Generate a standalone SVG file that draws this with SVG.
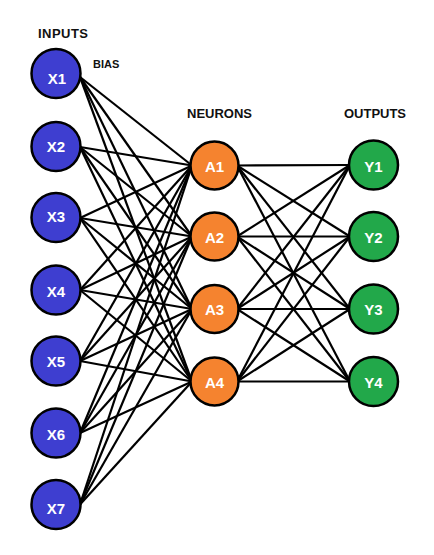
<svg xmlns="http://www.w3.org/2000/svg" width="434" height="555" viewBox="0 0 434 555">
<style>
.hdr{font-family:"Liberation Sans",Arial,sans-serif;font-weight:bold;font-size:13px;fill:#111}
.lbl{font-family:"Liberation Sans",Arial,sans-serif;font-weight:bold;font-size:15px;fill:#fff;text-anchor:middle}
.c{stroke:#000;stroke-width:2.5}
.in{fill:#3e3ed0}
.hid{fill:#f5832f}
.out{fill:#22a84a}
#connectors line{stroke:#000;stroke-width:2.2}
</style>
<rect width="434" height="555" fill="#fff"/>
<text class="hdr" x="38" y="38" textLength="50">INPUTS</text>
<text class="hdr" x="93" y="67.5" style="font-size:11px">BIAS</text>
<text class="hdr" x="187" y="117.5" textLength="65">NEURONS</text>
<text class="hdr" x="344" y="117.5" textLength="62">OUTPUTS</text>
<g id="connectors">
<line x1="80" y1="77" x2="192" y2="165.5"/><line x1="80" y1="77" x2="192" y2="236.5"/><line x1="80" y1="77" x2="192" y2="309"/><line x1="80" y1="77" x2="192" y2="381.5"/>
<line x1="80" y1="147" x2="192" y2="165.5"/><line x1="80" y1="147" x2="192" y2="236.5"/><line x1="80" y1="147" x2="192" y2="309"/><line x1="80" y1="147" x2="192" y2="381.5"/>
<line x1="80" y1="218" x2="192" y2="165.5"/><line x1="80" y1="218" x2="192" y2="236.5"/><line x1="80" y1="218" x2="192" y2="309"/><line x1="80" y1="218" x2="192" y2="381.5"/>
<line x1="80" y1="290" x2="192" y2="165.5"/><line x1="80" y1="290" x2="192" y2="236.5"/><line x1="80" y1="290" x2="192" y2="309"/><line x1="80" y1="290" x2="192" y2="381.5"/>
<line x1="80" y1="361" x2="192" y2="165.5"/><line x1="80" y1="361" x2="192" y2="236.5"/><line x1="80" y1="361" x2="192" y2="309"/><line x1="80" y1="361" x2="192" y2="381.5"/>
<line x1="80" y1="433" x2="192" y2="165.5"/><line x1="80" y1="433" x2="192" y2="236.5"/><line x1="80" y1="433" x2="192" y2="309"/><line x1="80" y1="433" x2="192" y2="381.5"/>
<line x1="80" y1="504.5" x2="192" y2="165.5"/><line x1="80" y1="504.5" x2="192" y2="236.5"/><line x1="80" y1="504.5" x2="192" y2="309"/><line x1="80" y1="504.5" x2="192" y2="381.5"/>
<line x1="237" y1="165.5" x2="350" y2="165"/><line x1="237" y1="165.5" x2="350" y2="236.5"/><line x1="237" y1="165.5" x2="350" y2="309"/><line x1="237" y1="165.5" x2="350" y2="381.5"/>
<line x1="237" y1="236.5" x2="350" y2="165"/><line x1="237" y1="236.5" x2="350" y2="236.5"/><line x1="237" y1="236.5" x2="350" y2="309"/><line x1="237" y1="236.5" x2="350" y2="381.5"/>
<line x1="237" y1="309" x2="350" y2="165"/><line x1="237" y1="309" x2="350" y2="236.5"/><line x1="237" y1="309" x2="350" y2="309"/><line x1="237" y1="309" x2="350" y2="381.5"/>
<line x1="237" y1="381.5" x2="350" y2="165"/><line x1="237" y1="381.5" x2="350" y2="236.5"/><line x1="237" y1="381.5" x2="350" y2="309"/><line x1="237" y1="381.5" x2="350" y2="381.5"/>
</g>
<g id="X1"><circle class="c in" cx="56" cy="73.5" r="24.5"/><text class="lbl" x="57" y="83.5">X1</text></g>
<g id="X2"><circle class="c in" cx="56" cy="146.5" r="24.5"/><text class="lbl" x="56" y="152">X2</text></g>
<g id="X3"><circle class="c in" cx="56" cy="217.5" r="24.5"/><text class="lbl" x="56" y="221.5">X3</text></g>
<g id="X4"><circle class="c in" cx="56" cy="290" r="24.5"/><text class="lbl" x="56" y="296.5">X4</text></g>
<g id="X5"><circle class="c in" cx="56" cy="361" r="24.5"/><text class="lbl" x="56" y="366.5">X5</text></g>
<g id="X6"><circle class="c in" cx="56" cy="433" r="24.5"/><text class="lbl" x="56" y="439.5">X6</text></g>
<g id="X7"><circle class="c in" cx="56" cy="504.5" r="24.5"/><text class="lbl" x="56" y="513.5">X7</text></g>
<g id="A1"><circle class="c hid" cx="214.5" cy="165.5" r="24"/><text class="lbl" x="214.5" y="171.5">A1</text></g>
<g id="A2"><circle class="c hid" cx="214.5" cy="236.5" r="24"/><text class="lbl" x="214.5" y="242.5">A2</text></g>
<g id="A3"><circle class="c hid" cx="214.5" cy="309" r="24"/><text class="lbl" x="214.5" y="314.5">A3</text></g>
<g id="A4"><circle class="c hid" cx="214.5" cy="381.5" r="24"/><text class="lbl" x="214.5" y="387.5">A4</text></g>
<g id="Y1"><circle class="c out" cx="373.5" cy="165" r="24.5"/><text class="lbl" x="373.5" y="171.5">Y1</text></g>
<g id="Y2"><circle class="c out" cx="373.5" cy="236.5" r="24.5"/><text class="lbl" x="373.5" y="242.5">Y2</text></g>
<g id="Y3"><circle class="c out" cx="373.5" cy="309" r="24.5"/><text class="lbl" x="373.5" y="314.5">Y3</text></g>
<g id="Y4"><circle class="c out" cx="373.5" cy="381.5" r="24.5"/><text class="lbl" x="373.5" y="387.5">Y4</text></g>
</svg>
